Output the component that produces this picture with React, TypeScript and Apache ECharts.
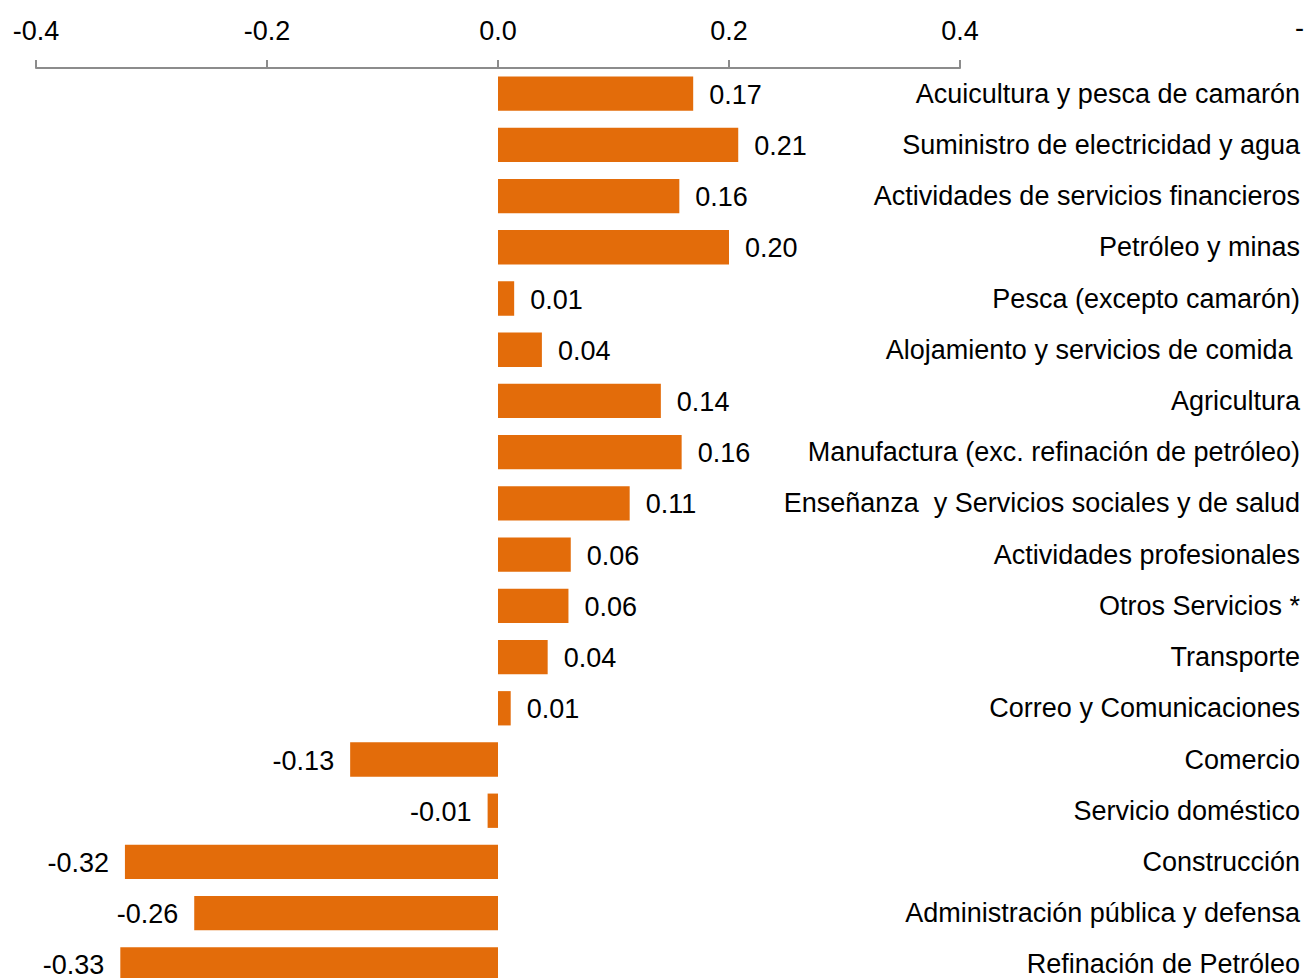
import React, { useEffect, useRef } from "react";
import * as echarts from "echarts";

const categories = [
  "Acuicultura y pesca de camarón",
  "Suministro de electricidad y agua",
  "Actividades de servicios financieros",
  "Petróleo y minas",
  "Pesca (excepto camarón)",
  "Alojamiento y servicios de comida ",
  "Agricultura",
  "Manufactura (exc. refinación de petróleo)",
  "Enseñanza  y Servicios sociales y de salud",
  "Actividades profesionales",
  "Otros Servicios *",
  "Transporte",
  "Correo y Comunicaciones",
  "Comercio",
  "Servicio doméstico",
  "Construcción",
  "Administración pública y defensa",
  "Refinación de Petróleo",
];

const values = [
  0.169, 0.208, 0.157, 0.2, 0.014, 0.038, 0.141, 0.159, 0.114, 0.063, 0.061,
  0.043, 0.011, -0.128, -0.009, -0.323, -0.263, -0.327,
];

const xTicks = { min: -0.4, max: 0.4, interval: 0.2 };

const FONT = "'Liberation Sans Narrow', 'Arial Narrow', 'Liberation Sans', sans-serif";
const BAR = "#E36C0A";

export default function App() {
  const ref = useRef<HTMLDivElement>(null);
  useEffect(() => {
    if (!ref.current) return;
    const chart = echarts.init(ref.current, null, { renderer: "svg" });
    chart.setOption({
      animation: false,
      backgroundColor: "#ffffff",
      grid: { left: 36, right: 346, top: 68, bottom: -10, containLabel: false },
      xAxis: {
        type: "value",
        position: "top",
        min: xTicks.min,
        max: xTicks.max,
        interval: xTicks.interval,
        axisLine: { show: true, lineStyle: { color: "#8c8c8c", width: 2 } },
        axisTick: { show: true, length: 8, lineStyle: { color: "#8c8c8c", width: 2 } },
        splitLine: { show: false },
        axisLabel: {
          formatter: (v: number) => v.toFixed(1),
          color: "#000",
          fontFamily: FONT,
          fontSize: 27,
          margin: 24,
        },
      },
      yAxis: {
        type: "category",
        data: categories,
        inverse: true,
        position: "right",
        axisLine: { show: false },
        axisTick: { show: false },
        axisLabel: {
          align: "right",
          margin: 340,
          color: "#000",
          fontFamily: FONT,
          fontSize: 27,
          verticalAlign: "middle",
        },
      },
      series: [
        {
          type: "bar",
          data: values.map((v) => ({
            value: v,
            label: {
              show: true,
              position: v < 0 ? "left" : "right",
            },
          })),
          barCategoryGap: "33%",
          itemStyle: { color: BAR },
          label: {
            show: true,
            distance: 16,
            offset: [0, 1],
            color: "#000",
            fontFamily: FONT,
            fontSize: 27,
            formatter: (p: any) => Number(p.value).toFixed(2),
          },
        },
      ],
      graphic: [
        {
          type: "text",
          right: 2,
          top: 14,
          style: { text: "-", fontFamily: FONT, fontSize: 27, fill: "#000" },
        },
      ],
    });
    return () => chart.dispose();
  }, []);
  return (
    <div
      ref={ref}
      style={{ position: "fixed", left: 0, top: 0, width: 1306, height: 990 }}
    />
  );
}
